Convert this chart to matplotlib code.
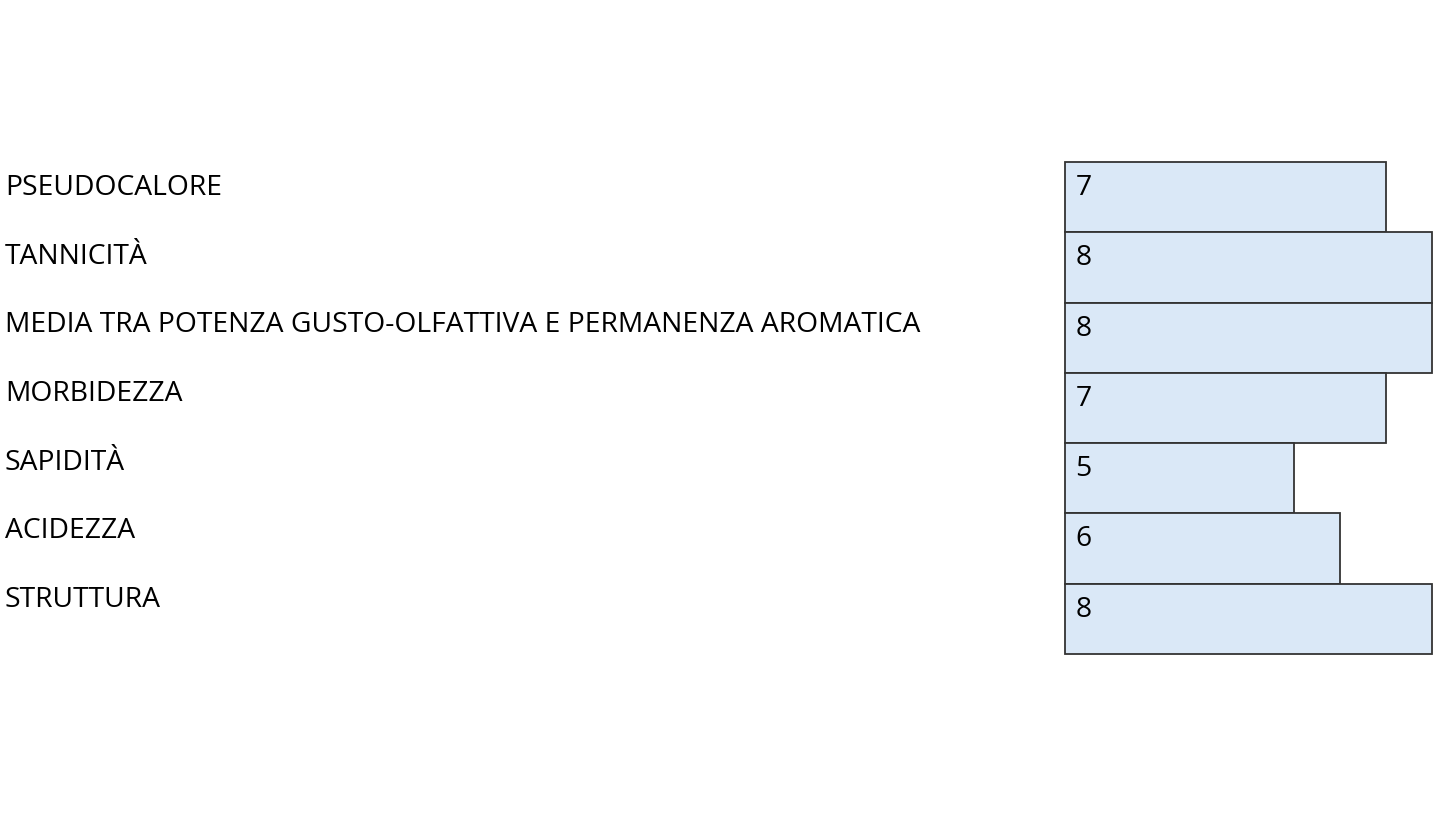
import matplotlib
matplotlib.use("Agg")
import matplotlib.pyplot as plt
import matplotlib.transforms as mtransforms

plt.rcParams['font.family'] = ['Open Sans', 'DejaVu Sans']

# dati
labels = [
    "PSEUDOCALORE",
    "TANNICITÀ",
    "MEDIA TRA POTENZA GUSTO-OLFATTIVA E PERMANENZA AROMATICA",
    "MORBIDEZZA",
    "SAPIDITÀ",
    "ACIDEZZA",
    "STRUTTURA",
]
values = [7, 8, 8, 7, 5, 6, 8]

W, H = 1445, 813
fig = plt.figure(figsize=(W / 100, H / 100), dpi=100)
ax = fig.add_axes([1065 / W, (H - 654) / H, (1432 - 1065) / W, (654 - 162) / H])

y = list(range(len(labels)))
bars = ax.barh(y, values, height=1.0, color="#dae8f7", edgecolor="#333333", linewidth=1.3)
for b in bars:
    b.set_clip_on(False)
ax.set_xlim(0, 8)
ax.set_ylim(len(labels) - 0.5, -0.5)
ax.axis("off")

# le etichette a sinistra hanno un passo leggermente più stretto delle barre
label_step = 0.977
label_trans = mtransforms.blended_transform_factory(fig.transFigure, ax.transData)
for i, (lab, v) in enumerate(zip(labels, values)):
    ax.annotate(lab, xy=(5 / W, i * label_step - 0.5), xycoords=label_trans,
                xytext=(0, -23.8), textcoords="offset points",
                ha="left", va="baseline", fontsize=20.3, color="black")
    ax.annotate(str(v), xy=(0, i - 0.5), xycoords="data",
                xytext=(7.5, -23.8), textcoords="offset points",
                ha="left", va="baseline", fontsize=20.3, color="black")

fig.savefig("out.png", dpi=100)
